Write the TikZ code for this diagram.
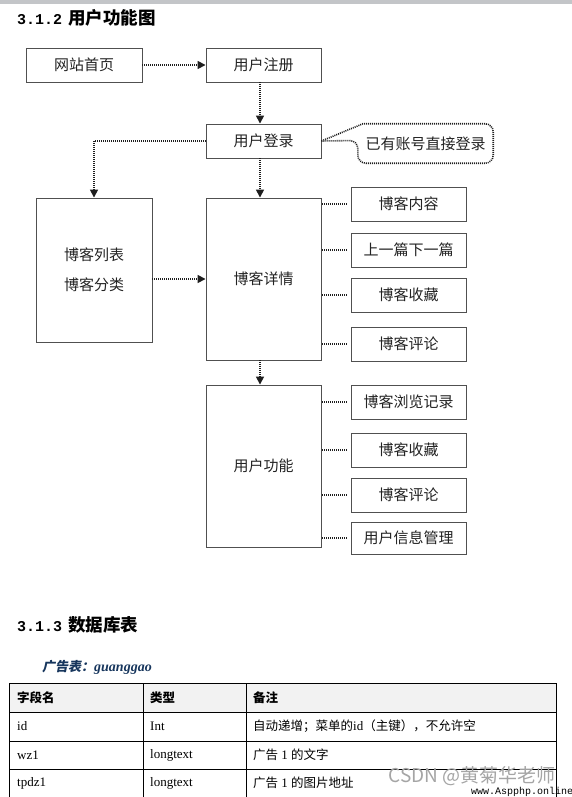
\documentclass[tikz,border=0pt]{standalone}
\usepackage{fontspec}
\setmainfont{Liberation Serif}
\newfontfamily\cjk{Noto Sans CJK SC}
\newfontfamily\cjkslant{Noto Sans CJK SC}[FakeSlant=0.2]
\newfontfamily\monofont{Liberation Mono}
\usetikzlibrary{arrows.meta}

\definecolor{boxline}{RGB}{80,80,80}
\definecolor{txt}{RGB}{35,35,35}
\definecolor{dots}{RGB}{30,30,30}
\definecolor{navy}{RGB}{23,54,93}
\definecolor{hdr}{RGB}{242,242,242}
\definecolor{topbar}{RGB}{195,197,200}
\definecolor{wm}{RGB}{165,165,165}

\tikzset{
  fbox/.style={draw=boxline, line width=0.9pt, fill=white, minimum width=115pt,
    inner sep=0pt, font=\cjk\fontsize{15}{18}\selectfont, text=txt},
  link/.style={draw=dots, line width=1.6pt, dash pattern=on 1pt off 1pt},
  arr/.style={link, -{Triangle[length=8pt,width=8pt]}},
  hcell/.style={anchor=west, inner sep=0pt, font=\cjk\bfseries\fontsize{12.5}{15}\selectfont},
  ccell/.style={anchor=west, inner sep=0pt, font=\cjk\fontsize{12.5}{15}\selectfont},
  ecell/.style={anchor=west, inner sep=0pt, font=\fontsize{13}{15}\selectfont},
  tline/.style={draw=black, line width=1pt},
}

\begin{document}
\begin{tikzpicture}[x=1pt,y=-1pt]
\useasboundingbox (0,0) rectangle (572,797);
\fill[white] (0,0) rectangle (572,797);
\fill[topbar] (0,0) rectangle (572,4);

% titles
\node[anchor=west, inner sep=0pt] (t1) at (17,18)
  {{\monofont\bfseries\fontsize{15}{18}\selectfont 3.1.2}\hspace{6pt}{\cjk\bfseries\fontsize{17.5}{20}\selectfont 用户功能图}};

% boxes
\node[fbox, minimum width=116pt, minimum height=34pt] (home) at (84,65) {网站首页};
\node[fbox, minimum height=34pt] (reg) at (263.5,65) {用户注册};
\node[fbox, minimum height=34pt] (login) at (263.5,141) {用户登录};
\node[fbox, minimum width=116pt, minimum height=144pt, align=center] (list) at (94,270)
  {博客列表\\[12pt]博客分类};
\node[fbox, minimum height=162pt] (detail) at (263.5,279) {博客详情};
\node[fbox, minimum height=34pt] (r1) at (408.5,204) {博客内容};
\node[fbox, minimum height=34pt] (r2) at (408.5,250) {上一篇下一篇};
\node[fbox, minimum height=34pt] (r3) at (408.5,295) {博客收藏};
\node[fbox, minimum height=34pt] (r4) at (408.5,344) {博客评论};
\node[fbox, minimum height=162pt] (user) at (263.5,466) {用户功能};
\node[fbox, minimum height=34pt] (u1) at (408.5,402) {博客浏览记录};
\node[fbox, minimum height=34pt] (u2) at (408.5,450) {博客收藏};
\node[fbox, minimum height=34pt] (u3) at (408.5,495) {博客评论};
\node[fbox, minimum height=32pt] (u4) at (408.5,538) {用户信息管理};

% callout
\node[inner sep=0pt, minimum width=135pt, minimum height=39pt, text=txt,
  font=\cjk\fontsize{15}{18}\selectfont] (note) at (425.5,143.5) {已有账号直接登录};
\draw[link] (login.east) -- ([xshift=5pt]note.north west)
  [rounded corners=8pt] -- (note.north east) -- (note.south east) -- (note.south west)
  -- ([yshift=3pt]note.west) [sharp corners] -- (login.east);

% arrows
\draw[arr] (home) -- (reg);
\draw[arr] ([xshift=-3.5pt]reg.south) -- ([xshift=-3.5pt]login.north);
\draw[arr] ([xshift=-3.5pt]login.south) -- ([xshift=-3.5pt]detail.north);
\draw[arr] ([xshift=-3.5pt]detail.south) -- ([xshift=-3.5pt]user.north);
\draw[arr] (login.west) -| (list.north);
\draw[arr] (list.east |- detail.west) -- (detail.west);
\foreach \n in {r1,r2,r3,r4}
  \draw[link, shorten <=1pt, shorten >=3pt] (detail.east |- \n.west) -- (\n.west);
\foreach \n in {u1,u2,u3,u4}
  \draw[link, shorten <=1pt, shorten >=3pt] (user.east |- \n.west) -- (\n.west);

% section 3.1.3
\node[anchor=west, inner sep=0pt] (t2) at (17,625)
  {{\monofont\bfseries\fontsize{15}{18}\selectfont 3.1.3}\hspace{6pt}{\cjk\bfseries\fontsize{17.5}{20}\selectfont 数据库表}};
\node[anchor=west, inner sep=0pt, text=navy] (tname) at (42,667)
  {{\cjkslant\bfseries\fontsize{13}{15}\selectfont 广告表：}{\bfseries\itshape\fontsize{14}{15}\selectfont guanggao}};

% table
\fill[hdr] (9,683) rectangle (556,712);
\draw[tline] (9,797) -- (9,683) -- (556,683) -- (556,797);
\draw[tline] (9,712) -- (556,712);
\draw[tline] (9,741) -- (556,741);
\draw[tline] (9,769) -- (556,769);
\draw[tline] (143,683) -- (143,797);
\draw[tline] (246,683) -- (246,797);

\node[hcell] (h1) at (17,697.5) {字段名};
\node[hcell] (h2) at (150,697.5) {类型};
\node[hcell] (h3) at (253,697.5) {备注};
\node[ecell] (a1) at (17,726.5) {id};
\node[ecell] (a2) at (150,726.5) {Int};
\node[ccell] (a3) at (253,726.5) {自动递增；菜单的{\rmfamily\fontsize{13}{15}\selectfont id}（主键），不允许空};
\node[ecell] (b1) at (17,755) {wz1};
\node[ecell] (b2) at (150,755) {longtext};
\node[ccell] (b3) at (253,755) {广告{\rmfamily\fontsize{13}{15}\selectfont\ 1\ }的文字};
\node[ecell] (c1) at (17,783) {tpdz1};
\node[ecell] (c2) at (150,783) {longtext};
\node[ccell] (c3) at (253,783) {广告{\rmfamily\fontsize{13}{15}\selectfont\ 1\ }的图片地址};

% watermark
\node[anchor=east, inner sep=0pt, text=wm, font=\cjk\fontsize{19}{22}\selectfont] (wm1) at (556,776) {CSDN @黄菊华老师};
\node[anchor=west, inner sep=0pt, font=\monofont\fontsize{10}{12}\selectfont] (wm2) at (471,792) {www.Aspphp.online};
\end{tikzpicture}
\end{document}
